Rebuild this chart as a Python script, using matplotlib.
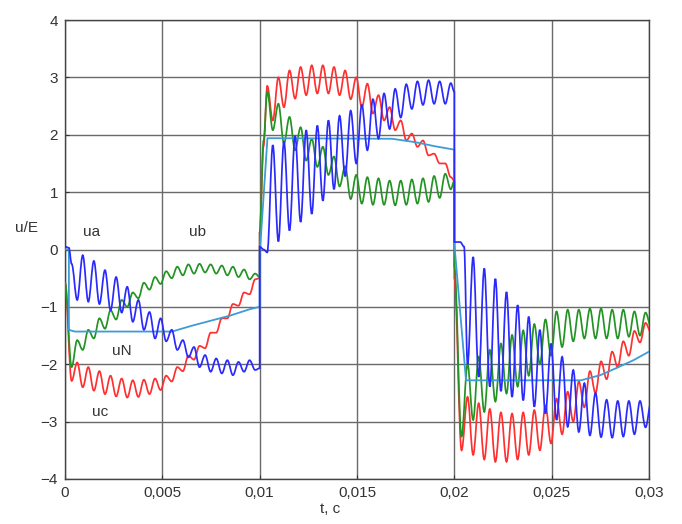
import numpy as np
import matplotlib
matplotlib.use('Agg')
import matplotlib.pyplot as plt
from matplotlib.path import Path
from matplotlib.patches import PathPatch

plt.rcParams['font.family'] = ['Liberation Sans', 'DejaVu Sans']

# ---------------- data ----------------
x_ticks = [0, 0.005, 0.01, 0.015, 0.02, 0.025, 0.03]
x_tick_labels = ['0', '0,005', '0,01', '0,015', '0,02', '0,025', '0,03']
y_ticks = [-4, -3, -2, -1, 0, 1, 2, 3, 4]

# time of the first ripple extremum in each 0.01 s interval, and half ripple period
grid_t0 = [0.00034, 0.01039, 0.02068]
half_period = 0.01 / 35

# ua (blue): lead-in points at each switching instant, then alternating extrema
ua_lead_t = [[0.0, 0.0, 0.0002], [0.01, 0.01, 0.0102], [0.02, 0.02, 0.0203, 0.0205]]
ua_lead_v = [[1.0, 0.05, 0.03], [-2.07, 0.05, 0.0], [2.75, 0.13, 0.13, 0.05]]
ua_ext1 = [-0.25, -0.88, -0.10, -0.91, -0.20, -0.95, -0.36, -1.06, -0.48, -1.10, -0.65, -1.26,
           -0.88, -1.40, -1.09, -1.55, -1.20, -1.60, -1.40, -1.75, -1.58, -1.88, -1.70, -2.05,
           -1.84, -2.13, -1.90, -2.16, -1.93, -2.19, -1.96, -2.13, -1.93, -2.10]
ua_ext2 = [-0.05, 1.82, 0.14, 1.88, 0.33, 1.98, 0.48, 2.08, 0.62, 2.16, 0.85, 2.25, 1.05, 2.33,
           1.28, 2.42, 1.50, 2.52, 1.73, 2.62, 1.93, 2.72, 2.10, 2.80, 2.30, 2.88, 2.45, 2.93,
           2.52, 2.95, 2.54, 2.93, 2.54, 2.90]
ua_ext3 = [-2.00, -0.13, -2.22, -0.33, -2.39, -0.51, -2.47, -0.74, -2.57, -0.97, -2.63, -1.17,
           -2.74, -1.40, -2.86, -1.64, -2.97, -1.87, -3.09, -2.10, -3.18, -2.33, -3.24, -2.50,
           -3.27, -2.62, -3.28, -2.64, -3.26, -2.64, -3.22, -2.64, -3.10, -2.66]

# uc (red)
uc_lead_t = [[0.0], [0.01, 0.01, 0.0102], [0.02, 0.02, 0.02037]]
uc_lead_v = [[-0.58], [-0.5, 0.3, 1.8], [1.2, -0.5, -3.5]]
uc_ext1 = [-2.29, -1.97, -2.40, -2.05, -2.46, -2.12, -2.52, -2.20, -2.56, -2.25, -2.58, -2.28,
           -2.57, -2.27, -2.52, -2.25, -2.45, -2.20, -2.30, -2.05, -2.12, -1.85, -1.92, -1.68,
           -1.72, -1.45, -1.45, -1.20, -1.20, -0.95, -0.98, -0.75, -0.78, -0.52]
uc_ext2 = [2.85, 2.25, 3.00, 2.48, 3.12, 2.63, 3.18, 2.69, 3.21, 2.72, 3.21, 2.72, 3.18, 2.69,
           3.12, 2.62, 3.00, 2.48, 2.89, 2.37, 2.69, 2.25, 2.48, 2.08, 2.25, 1.90, 2.02, 1.79,
           1.90, 1.64, 1.67, 1.50, 1.50, 1.26]
uc_ext3 = [-2.57, -3.58, -2.68, -3.66, -2.78, -3.70, -2.84, -3.70, -2.86, -3.66, -2.84, -3.58,
           -2.80, -3.50, -2.72, -3.38, -2.60, -3.22, -2.48, -3.00, -2.30, -2.75, -2.12, -2.50,
           -1.95, -2.26, -1.78, -2.05, -1.60, -1.85, -1.42, -1.62, -1.28, -1.45]

# ub (green)
ub_lead_t = [[0.0], [0.01, 0.01, 0.0102], [0.02, 0.02, 0.02037]]
ub_lead_v = [[-0.58], [-0.48, 0.3, 1.9], [1.2, -0.3, -3.26]]
ub_ext1 = [-2.05, -1.58, -1.75, -1.40, -1.55, -1.20, -1.38, -1.06, -1.22, -0.88, -1.00, -0.75,
           -0.85, -0.58, -0.70, -0.48, -0.60, -0.38, -0.50, -0.30, -0.45, -0.26, -0.42, -0.25,
           -0.40, -0.26, -0.42, -0.28, -0.45, -0.30, -0.48, -0.35, -0.52, -0.42]
ub_ext2 = [2.75, 2.08, 2.54, 1.85, 2.31, 1.73, 2.13, 1.55, 1.93, 1.44, 1.79, 1.30, 1.62, 1.10,
           1.45, 0.88, 1.30, 0.80, 1.26, 0.78, 1.24, 0.78, 1.20, 0.77, 1.20, 0.78, 1.22, 0.80,
           1.24, 0.83, 1.28, 0.90, 1.32, 1.05]
ub_ext3 = [-2.00, -2.97, -1.87, -2.83, -1.75, -2.65, -1.64, -2.51, -1.49, -2.39, -1.41, -2.20,
           -1.30, -2.00, -1.22, -1.85, -1.08, -1.70, -1.05, -1.60, -1.05, -1.55, -1.03, -1.55,
           -1.03, -1.55, -1.05, -1.55, -1.05, -1.52, -1.08, -1.50, -1.10, -1.35]

# uN (light blue, smooth)
uN_t = [0.0, 0.0002, 0.0002, 0.0005, 0.0055, 0.0065, 0.0075, 0.0085, 0.0095, 0.01,
        0.01, 0.0104, 0.0168, 0.018, 0.019, 0.02,
        0.02, 0.0206, 0.0265, 0.0275, 0.0283, 0.0292, 0.03]
uN_v = [0.0, 0.0, -1.40, -1.43, -1.43, -1.33, -1.24, -1.15, -1.04, -1.0,
        -0.1, 1.94, 1.93, 1.87, 1.80, 1.74,
        0.1, -2.28, -2.28, -2.19, -2.07, -1.93, -1.78]

labels = ['ua', 'ub', 'uN', 'uc']
label_t = [0.00134, 0.00683, 0.00293, 0.0018]
label_v = [0.30, 0.30, -1.77, -2.84]


def build(lead_t, lead_v, exts):
    ts, vs = [], []
    for k in range(3):
        ts += list(lead_t[k])
        vs += list(lead_v[k])
        ts += list(grid_t0[k] + half_period * np.arange(len(exts[k])))
        vs += list(exts[k])
    return ts, vs


def ripple_path(ts, vs, k=0.36):
    """Smooth path through the extrema: each piece is a cubic Bezier with flat
    tangents at its ends (rendered by matplotlib's own Bezier drawing)."""
    verts = [(ts[0], vs[0])]
    codes = [Path.MOVETO]
    for i in range(1, len(ts)):
        t0, v0, t1, v1 = ts[i - 1], vs[i - 1], ts[i], vs[i]
        dt = t1 - t0
        verts += [(t0 + k * dt, v0), (t1 - k * dt, v1), (t1, v1)]
        codes += [Path.CURVE4, Path.CURVE4, Path.CURVE4]
    return Path(verts, codes)


ua_t, ua_v = build(ua_lead_t, ua_lead_v, [ua_ext1, ua_ext2, ua_ext3])
uc_t, uc_v = build(uc_lead_t, uc_lead_v, [uc_ext1, uc_ext2, uc_ext3])
ub_t, ub_v = build(ub_lead_t, ub_lead_v, [ub_ext1, ub_ext2, ub_ext3])

# ---------------- figure ----------------
fig = plt.figure(figsize=(6.82, 5.24), dpi=100)
ax = fig.add_axes([65 / 682, 1 - 479 / 524, (649 - 65) / 682, (479 - 20) / 524])

for (t, v, c, z) in [(uc_t, uc_v, '#ff3030', 3), (ub_t, ub_v, '#239423', 3)]:
    ax.add_patch(PathPatch(ripple_path(t, v), fill=False, edgecolor=c, lw=1.25, zorder=z))
ax.plot(uN_t, uN_v, color='#3d9bd6', lw=1.3, zorder=3)
ax.add_patch(PathPatch(ripple_path(ua_t, ua_v), fill=False, edgecolor='#2a2aff', lw=1.25, zorder=4))

ax.set_xlim(0, 0.03)
ax.set_ylim(-4, 4)
ax.set_xticks(x_ticks)
ax.set_xticklabels(x_tick_labels)
ax.set_yticks(y_ticks)
ax.grid(True, color='#6a6a6a', lw=1.0)
ax.set_axisbelow(True)
ax.tick_params(direction='in', length=3, labelsize=11, colors='#333333', pad=5)
for s in ax.spines.values():
    s.set_color('#444444')
    s.set_linewidth(1.0)

for lab, t, v in zip(labels, label_t, label_v):
    ax.text(t, v, lab, fontsize=11, color='#333333', ha='center', va='center')

fig.text(27 / 682, 1 - 228 / 524, 'u/E', fontsize=11, color='#333333', ha='center', va='center')
fig.text(330 / 682, 1 - 509 / 524, 't, c', fontsize=11, color='#333333', ha='center', va='center')

fig.savefig('out.png', dpi=100)
